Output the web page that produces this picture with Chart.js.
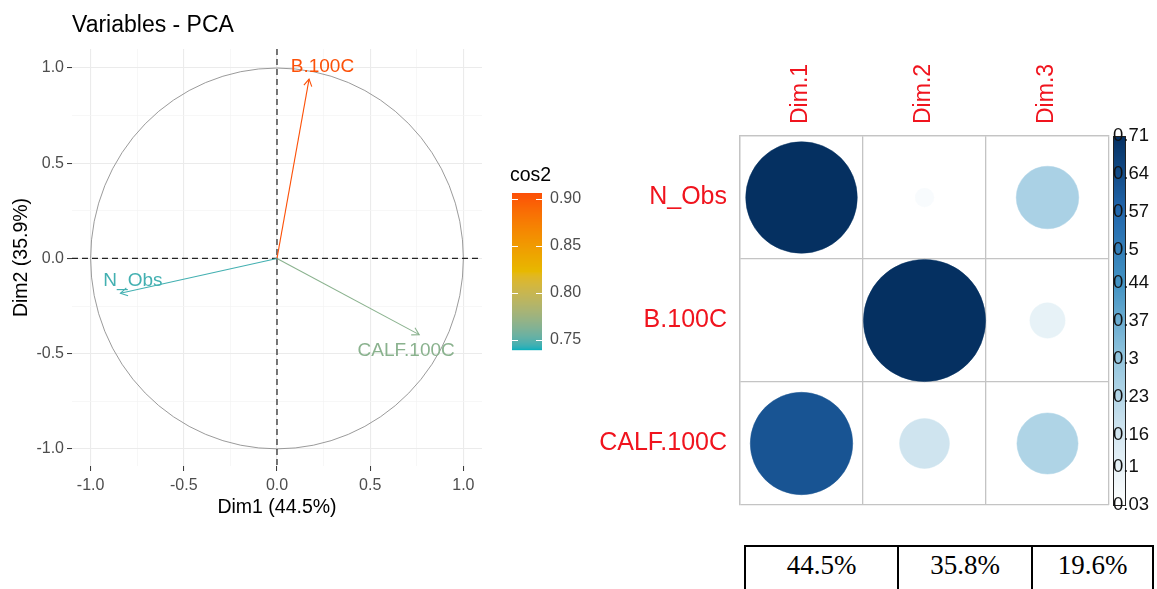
<!DOCTYPE html>
<html>
<head>
<meta charset="utf-8">
<script src="https://cdn.jsdelivr.net/npm/chart.js@4.4.1/dist/chart.umd.min.js"></script>
<style>
  html, body { margin:0; padding:0; background:#fff; }
  body { width:1157px; height:589px; position:relative; overflow:hidden; }
  #pca { position:absolute; left:0; top:0; }
  #corr { position:absolute; left:580px; top:0; }
  #eig { position:absolute; left:744px; top:545px; border-collapse:collapse;
         font-family:'Liberation Serif','Times New Roman',serif; font-size:27px; color:#000; }
  #eig td { border:2px solid #000; height:60px; vertical-align:top; text-align:center;
            padding:3px 0 0 0; line-height:30px; }
</style>
</head>
<body>
<canvas id="pca" width="600" height="530"></canvas>
<canvas id="corr" width="577" height="540"></canvas>
<table id="eig"><tr id="eigRow"></tr></table>
<script>
// ---------------- data ----------------
const variables = ['N_Obs', 'B.100C', 'CALF.100C'];
const dim1Coord = [-0.840, 0.172, 0.763];
const dim2Coord = [-0.183, 0.942, -0.400];
const varCos2   = [0.745, 0.905, 0.766];
const labelDim1 = [-0.773, 0.244, 0.693];
const labelDim2 = [-0.118, 1.006, -0.487];
const axisMajorTicks = [-1.0, -0.5, 0.0, 0.5, 1.0];
const axisMinorTicks = [-0.75, -0.25, 0.25, 0.75];
const cos2LegendTicks = [0.75, 0.80, 0.85, 0.90];
const cos2Limits = [0.739, 0.906];
const cos2Palette = ['#00AFBB', '#E7B800', '#FC4E07'];

const dims = ['Dim.1', 'Dim.2', 'Dim.3'];
const cos2NObs = [0.73, 0.05, 0.25];
const cos2B100C = [0.03, 0.87, 0.10];
const cos2CALF = [0.62, 0.17, 0.24];
const corrBarTicks = [0.03, 0.1, 0.16, 0.23, 0.3, 0.37, 0.44, 0.5, 0.57, 0.64, 0.71];
const corrLimits = [0.03, 0.71];
const corrPalette = ['#FFFFFF', '#D1E5F0', '#92C5DE', '#4393C3', '#2166AC', '#053061'];

const variancePct = [44.5, 35.8, 19.6];

// ---------------- helpers ----------------
const SANS = "'Liberation Sans', Arial, sans-serif";
Chart.defaults.font.family = SANS;

function hex2rgb(h){ return [parseInt(h.slice(1,3),16), parseInt(h.slice(3,5),16), parseInt(h.slice(5,7),16)]; }
function s2l(c){ c/=255; return c<=0.04045 ? c/12.92 : Math.pow((c+0.055)/1.055, 2.4); }
function l2s(c){ c = c<=0.0031308 ? 12.92*c : 1.055*Math.pow(c,1/2.4)-0.055; return Math.round(Math.max(0,Math.min(1,c))*255); }
function rgb2lab(rgb){
  const [r,g,b] = rgb.map(s2l);
  const X=(0.4124*r+0.3576*g+0.1805*b)/0.95047, Y=(0.2126*r+0.7152*g+0.0722*b), Z=(0.0193*r+0.1192*g+0.9505*b)/1.08883;
  const f=t=> t>0.008856 ? Math.cbrt(t) : 7.787*t+16/116;
  const fx=f(X), fy=f(Y), fz=f(Z);
  return [116*fy-16, 500*(fx-fy), 200*(fy-fz)];
}
function lab2rgb(lab){
  const fy=(lab[0]+16)/116, fx=fy+lab[1]/500, fz=fy-lab[2]/200;
  const inv=t=> t*t*t>0.008856 ? t*t*t : (t-16/116)/7.787;
  const X=inv(fx)*0.95047, Y=inv(fy), Z=inv(fz)*1.08883;
  const r=3.2406*X-1.5372*Y-0.4986*Z, g=-0.9689*X+1.8758*Y+0.0415*Z, b=0.0557*X-0.2040*Y+1.0570*Z;
  return [l2s(r), l2s(g), l2s(b)];
}
const cos2Labs = cos2Palette.map(h => rgb2lab(hex2rgb(h)));
function cos2Color(v){
  let t = (v - cos2Limits[0]) / (cos2Limits[1] - cos2Limits[0]);
  t = Math.max(0, Math.min(1, t));
  const seg = Math.min(cos2Labs.length-2, Math.floor(t*(cos2Labs.length-1)));
  const f = t*(cos2Labs.length-1) - seg;
  const a = cos2Labs[seg], b = cos2Labs[seg+1];
  const c = lab2rgb([a[0]+(b[0]-a[0])*f, a[1]+(b[1]-a[1])*f, a[2]+(b[2]-a[2])*f]);
  return `rgb(${c[0]},${c[1]},${c[2]})`;
}
const corrRgbs = corrPalette.map(hex2rgb);
function corrScaled(v){ return (v - corrLimits[0]) / (corrLimits[1] - corrLimits[0]); }
function corrColor(v){
  const t = Math.max(0, Math.min(1, corrScaled(v)));
  const n = corrRgbs.length - 1;
  const seg = Math.min(n-1, Math.floor(t*n));
  const f = t*n - seg;
  const a = corrRgbs[seg], b = corrRgbs[seg+1];
  return `rgb(${Math.round(a[0]+(b[0]-a[0])*f)},${Math.round(a[1]+(b[1]-a[1])*f)},${Math.round(a[2]+(b[2]-a[2])*f)})`;
}
const isMajor = v => axisMajorTicks.some(m => Math.abs(m - v) < 1e-9);
const allTicks = axisMajorTicks.concat(axisMinorTicks).sort((a,b)=>a-b);

// ---------------- left: PCA variables ----------------
const pcaDecor = {
  id: 'pcaDecor',
  beforeDatasetsDraw(chart){
    const {ctx, chartArea:a, scales:{x, y}} = chart;
    const cx = x.getPixelForValue(0), cy = y.getPixelForValue(0);
    const rx = x.getPixelForValue(1) - cx, ry = cy - y.getPixelForValue(1);
    ctx.save();
    ctx.strokeStyle = '#8f8f8f'; ctx.lineWidth = 0.9;
    ctx.beginPath(); ctx.ellipse(cx, cy, rx, ry, 0, 0, 2*Math.PI); ctx.stroke();
    ctx.strokeStyle = '#222'; ctx.lineWidth = 1.2; ctx.setLineDash([6,4]);
    ctx.beginPath();
    ctx.moveTo(a.left, cy); ctx.lineTo(a.right, cy);
    ctx.moveTo(cx, a.top); ctx.lineTo(cx, a.bottom);
    ctx.stroke();
    ctx.restore();
  },
  afterDatasetsDraw(chart){
    const {ctx, scales:{x, y}} = chart;
    ctx.save();
    variables.forEach((name, i) => {
      const col = cos2Color(varCos2[i]);
      const ox = x.getPixelForValue(0), oy = y.getPixelForValue(0);
      const ex = x.getPixelForValue(dim1Coord[i]), ey = y.getPixelForValue(dim2Coord[i]);
      const ang = Math.atan2(ey-oy, ex-ox);
      const L = 8, spread = Math.PI/6;
      ctx.strokeStyle = col; ctx.lineWidth = 1.1;
      ctx.beginPath();
      ctx.moveTo(ex - L*Math.cos(ang-spread), ey - L*Math.sin(ang-spread));
      ctx.lineTo(ex, ey);
      ctx.lineTo(ex - L*Math.cos(ang+spread), ey - L*Math.sin(ang+spread));
      ctx.stroke();
      ctx.fillStyle = col;
      ctx.font = `19px ${SANS}`;
      ctx.textAlign = 'center'; ctx.textBaseline = 'middle';
      ctx.fillText(name, x.getPixelForValue(labelDim1[i]), y.getPixelForValue(labelDim2[i]));
    });
    ctx.restore();
  },
  afterDraw(chart){
    const {ctx} = chart;
    const barLeft = 512, barW = 30, barTop = 193, barBottom = 350;
    const vy = v => barBottom - (v - cos2Limits[0]) / (cos2Limits[1] - cos2Limits[0]) * (barBottom - barTop);
    ctx.save();
    ctx.fillStyle = '#000'; ctx.font = `19.5px ${SANS}`;
    ctx.textAlign = 'left'; ctx.textBaseline = 'middle';
    ctx.fillText('cos2', 510, 176);
    for (let py = barTop; py < barBottom; py++) {
      const v = cos2Limits[0] + (barBottom - py - 0.5) / (barBottom - barTop) * (cos2Limits[1] - cos2Limits[0]);
      ctx.fillStyle = cos2Color(v);
      ctx.fillRect(barLeft, py, barW, 1.2);
    }
    ctx.strokeStyle = '#fff'; ctx.lineWidth = 1;
    ctx.font = `16px ${SANS}`; ctx.fillStyle = '#4d4d4d';
    cos2LegendTicks.forEach(v => {
      const py = Math.round(vy(v)) + 0.5;
      ctx.beginPath();
      ctx.moveTo(barLeft, py); ctx.lineTo(barLeft + 6, py);
      ctx.moveTo(barLeft + barW - 6, py); ctx.lineTo(barLeft + barW, py);
      ctx.stroke();
      ctx.fillText(v.toFixed(2), 550, vy(v));
    });
    ctx.restore();
  }
};

function axisCfg(title, isX){
  return {
    type: 'linear',
    min: isX ? -1.1 : -1.09,
    max: 1.1,
    afterBuildTicks: s => { s.ticks = allTicks.map(v => ({value: v})); },
    afterFit: s => { if (isX) s.height = 64; else s.width = 72; },
    grid: {
      color: c => (c.tick && isMajor(c.tick.value)) ? '#EBEBEB' : '#F3F3F3',
      lineWidth: c => (c.tick && isMajor(c.tick.value)) ? 1.1 : 0.7,
      tickLength: 5,
      tickColor: c => (c.tick && isMajor(c.tick.value)) ? '#333' : 'rgba(0,0,0,0)',
      tickWidth: 1
    },
    border: { display: false },
    ticks: {
      autoSkip: false, maxRotation: 0, minRotation: 0,
      color: '#4d4d4d', font: { size: 16 }, padding: isX ? 5 : 3,
      callback: v => isMajor(v) ? Number(v).toFixed(1) : ''
    },
    title: { display: true, text: title, color: '#000', font: { size: 19.5 },
             padding: isX ? { top: 0, bottom: 11 } : { top: 10, bottom: 0 } }
  };
}

new Chart(document.getElementById('pca'), {
  type: 'scatter',
  data: {
    datasets: variables.map((name, i) => ({
      label: name,
      data: [{x: 0, y: 0}, {x: dim1Coord[i], y: dim2Coord[i]}],
      showLine: true,
      borderColor: cos2Color(varCos2[i]),
      borderWidth: 1.1,
      pointRadius: 0,
      fill: false
    }))
  },
  options: {
    responsive: false,
    animation: false,
    layout: { padding: { left: 0, right: 118, top: 3, bottom: 0 } },
    plugins: {
      legend: { display: false },
      tooltip: { enabled: false },
      title: { display: true, text: 'Variables - PCA', align: 'start', fullSize: false,
               color: '#000', font: { size: 23, weight: 'normal' }, padding: { top: 9, bottom: 9.4 } }
    },
    scales: {
      x: axisCfg('Dim1 (44.5%)', true),
      y: axisCfg('Dim2 (35.9%)', false)
    }
  },
  plugins: [pcaDecor]
});

// ---------------- right: corrplot of cos2 ----------------
const cos2Rows = [cos2NObs, cos2B100C, cos2CALF];
const cellPoints = [];
cos2Rows.forEach((row, r) => row.forEach((v, c) => cellPoints.push({x: dims[c], y: variables[r], v: v})));

const corrBar = {
  id: 'corrBar',
  afterDraw(chart){
    const {ctx, chartArea:a} = chart;
    const left = a.right + 4, w = 12, top = a.top, bottom = a.bottom;
    ctx.save();
    for (let py = top; py < bottom; py++) {
      const v = corrLimits[0] + (bottom - py - 0.5) / (bottom - top) * (corrLimits[1] - corrLimits[0]);
      ctx.fillStyle = corrColor(v);
      ctx.fillRect(left, py, w, 1.2);
    }
    ctx.strokeStyle = '#222'; ctx.lineWidth = 1;
    ctx.strokeRect(left + 0.5, top + 0.5, w, bottom - top);
    ctx.fillStyle = '#111'; ctx.font = `18.5px ${SANS}`;
    ctx.textAlign = 'left'; ctx.textBaseline = 'middle';
    corrBarTicks.forEach(v => {
      const py = bottom - corrScaled(v) * (bottom - top);
      ctx.fillText(String(v), left, py);
    });
    ctx.restore();
  }
};

function cellValue(c){ return (c && c.raw && typeof c.raw.v === 'number') ? c.raw.v : null; }

new Chart(document.getElementById('corr'), {
  type: 'scatter',
  data: {
    datasets: [{
      data: cellPoints,
      showLine: false,
      pointBackgroundColor: c => { const v = cellValue(c); return v === null ? '#fff' : corrColor(v); },
      pointBorderColor: c => { const v = cellValue(c); return v === null ? '#fff' : corrColor(v); },
      pointBorderWidth: 0.5,
      pointRadius: c => {
        const v = cellValue(c);
        if (v === null) return 0;
        const xs = c.chart.scales.x;
        if (!xs) return 0;
        const cell = Math.abs(xs.getPixelForValue(1) - xs.getPixelForValue(0));
        const r = 0.447 * cell * Math.sqrt(Math.max(0, corrScaled(v)));
        return isFinite(r) ? r : 0;
      },
      pointHoverRadius: 0,
      clip: false
    }]
  },
  options: {
    responsive: false,
    animation: false,
    layout: { padding: { left: 0, right: 48, top: 0, bottom: 35 } },
    plugins: { legend: { display: false }, tooltip: { enabled: false } },
    scales: {
      x: {
        type: 'category', labels: dims, position: 'top', offset: true,
        afterFit: s => { s.height = 136; },
        grid: { offset: true, color: '#C4C4C4', lineWidth: 1.3, drawTicks: false },
        border: { display: true, color: '#C4C4C4', width: 1.3 },
        ticks: { color: '#F0141E', font: { size: 23 }, minRotation: 90, maxRotation: 90, padding: 12,
                 autoSkip: false, labelOffset: 27 }
      },
      y: {
        type: 'category', labels: variables, offset: true,
        afterFit: s => { s.width = 160; },
        grid: { offset: true, color: '#C4C4C4', lineWidth: 1.3, drawTicks: false },
        border: { display: true, color: '#C4C4C4', width: 1.3 },
        ticks: { color: '#F0141E', font: { size: 25 }, padding: 13, autoSkip: false }
      }
    }
  },
  plugins: [corrBar]
});

// ---------------- table of explained variance ----------------
const colWidths = [151, 132, 119];
const rowEl = document.getElementById('eigRow');
variancePct.forEach((p, i) => {
  const td = document.createElement('td');
  td.style.width = colWidths[i] + 'px';
  td.textContent = p.toFixed(1) + '%';
  rowEl.appendChild(td);
});
</script>
</body>
</html>
